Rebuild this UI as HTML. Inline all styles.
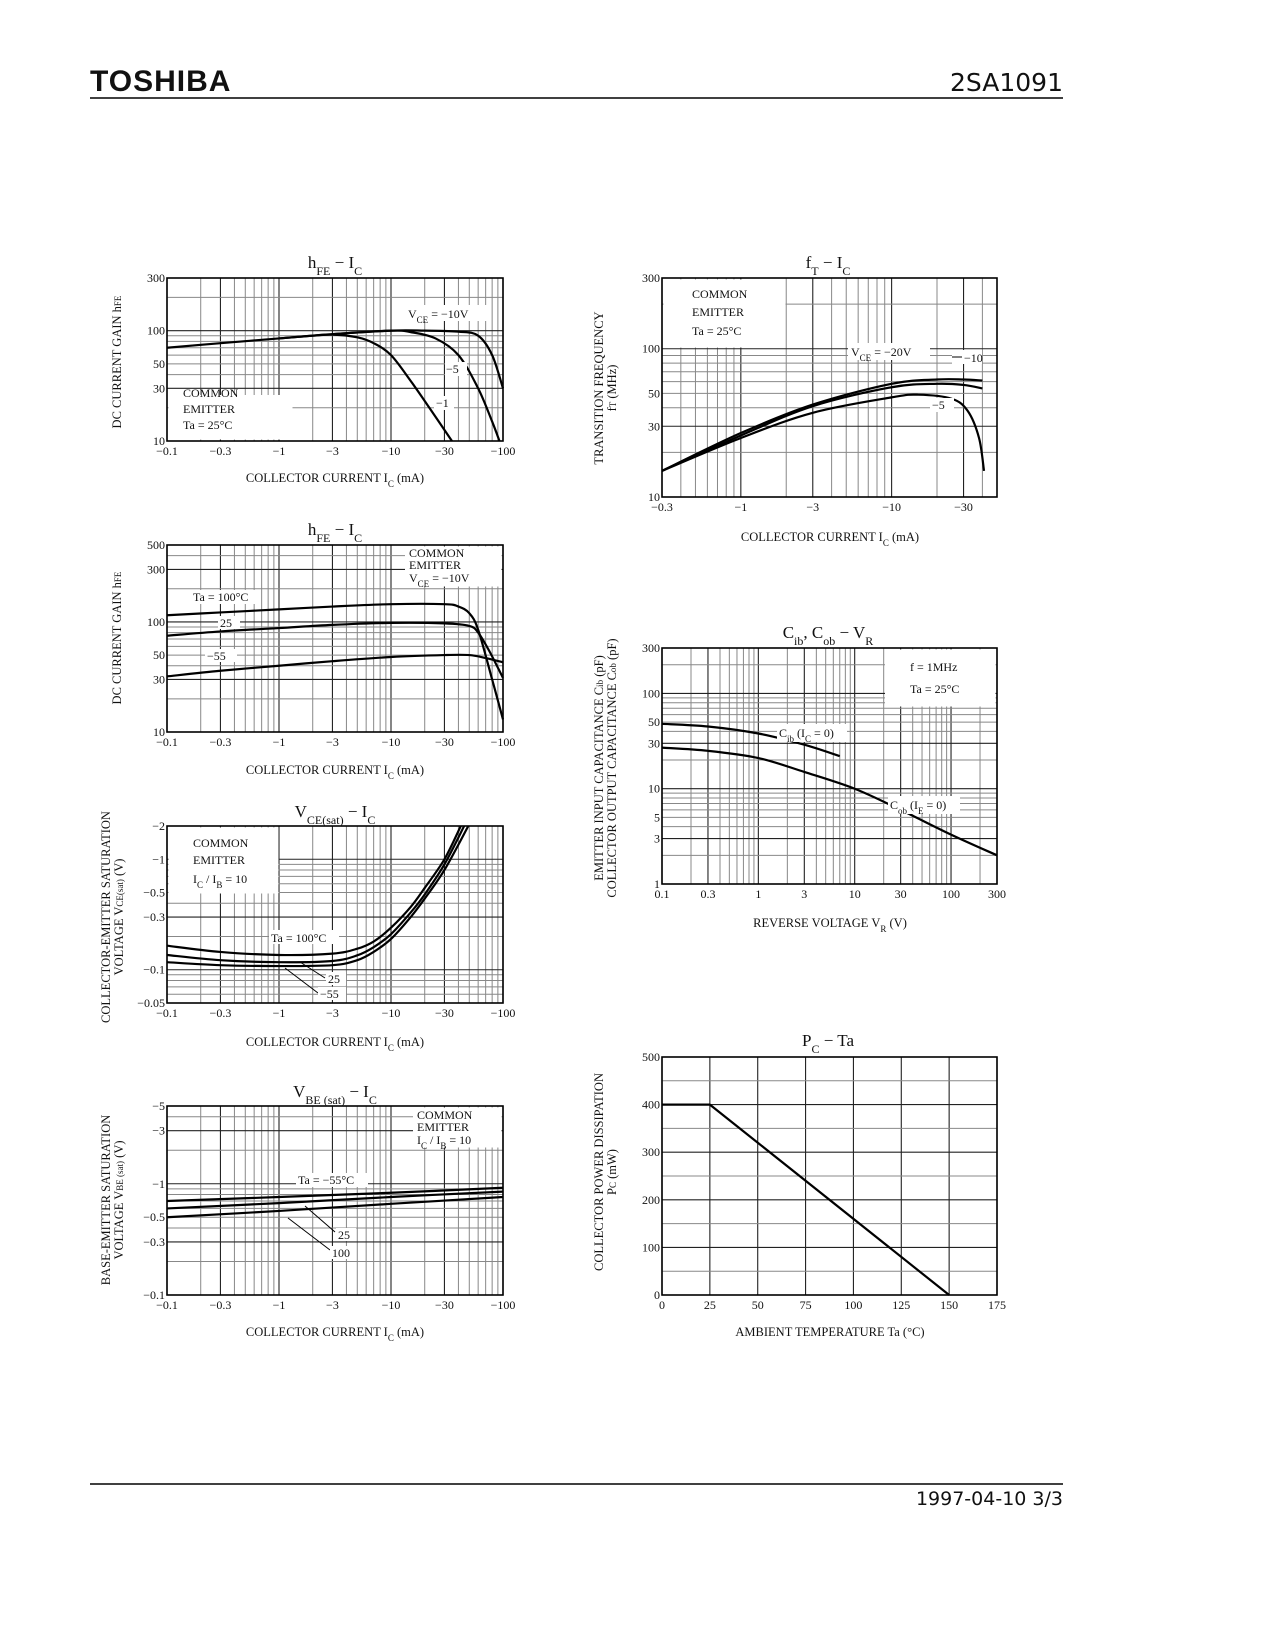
<!DOCTYPE html>
<html><head><meta charset="utf-8"><style>
html,body{margin:0;padding:0;background:#fff}
svg{display:block}
text{font-family:"Liberation Serif",serif;fill:#111}
.t{font-size:12px}
.ti{font-size:17px}
.ax{font-size:12.5px}
.tk{font-size:12px}
</style></head><body>
<svg id="page" width="1275" height="1650" viewBox="0 0 1275 1650" xmlns="http://www.w3.org/2000/svg">
<rect width="1275" height="1650" fill="#fff"/>
<text x="90" y="91" style="font-family:'Liberation Sans',sans-serif;font-weight:bold;font-size:30px;letter-spacing:1px">TOSHIBA</text>
<text x="1063" y="91" text-anchor="end" style="font-family:'DejaVu Sans',sans-serif;font-size:25px">2SA1091</text>
<line x1="90" y1="98" x2="1063" y2="98" stroke="#000" stroke-width="1.5"/>
<line x1="90" y1="1484" x2="1063" y2="1484" stroke="#000" stroke-width="1.5"/>
<text x="1063" y="1505" text-anchor="end" style="font-family:'DejaVu Sans',sans-serif;font-size:19px">1997-04-10   3/3</text>

<g id="layer"></g>

<text class="ti" x="335" y="268" text-anchor="middle">h<tspan font-size="12" baseline-shift="sub">FE</tspan> − I<tspan font-size="12" baseline-shift="sub">C</tspan></text>
<text class="ti" x="335" y="535" text-anchor="middle">h<tspan font-size="12" baseline-shift="sub">FE</tspan> − I<tspan font-size="12" baseline-shift="sub">C</tspan></text>
<text class="ti" x="335" y="817" text-anchor="middle">V<tspan font-size="12" baseline-shift="sub">CE(sat)</tspan> − I<tspan font-size="12" baseline-shift="sub">C</tspan></text>
<text class="ti" x="335" y="1097" text-anchor="middle">V<tspan font-size="12" baseline-shift="sub">BE (sat)</tspan> − I<tspan font-size="12" baseline-shift="sub">C</tspan></text>
<text class="ti" x="828" y="268" text-anchor="middle">f<tspan font-size="12" baseline-shift="sub">T</tspan> − I<tspan font-size="12" baseline-shift="sub">C</tspan></text>
<text class="ti" x="828" y="638" text-anchor="middle">C<tspan font-size="12" baseline-shift="sub">ib</tspan>, C<tspan font-size="12" baseline-shift="sub">ob</tspan> − V<tspan font-size="12" baseline-shift="sub">R</tspan></text>
<text class="ti" x="828" y="1046" text-anchor="middle">P<tspan font-size="12" baseline-shift="sub">C</tspan> − Ta</text>

<text class="ax" x="335" y="482" text-anchor="middle">COLLECTOR CURRENT   I<tspan font-size="9" baseline-shift="sub">C</tspan>   (mA)</text>
<text class="ax" x="335" y="774" text-anchor="middle">COLLECTOR CURRENT   I<tspan font-size="9" baseline-shift="sub">C</tspan>   (mA)</text>
<text class="ax" x="335" y="1046" text-anchor="middle">COLLECTOR CURRENT   I<tspan font-size="9" baseline-shift="sub">C</tspan>   (mA)</text>
<text class="ax" x="335" y="1336" text-anchor="middle">COLLECTOR CURRENT   I<tspan font-size="9" baseline-shift="sub">C</tspan>   (mA)</text>
<text class="ax" x="830" y="541" text-anchor="middle">COLLECTOR CURRENT   I<tspan font-size="9" baseline-shift="sub">C</tspan>   (mA)</text>
<text class="ax" x="830" y="927" text-anchor="middle">REVERSE VOLTAGE   V<tspan font-size="9" baseline-shift="sub">R</tspan>   (V)</text>
<text class="ax" x="830" y="1336" text-anchor="middle">AMBIENT TEMPERATURE   Ta   (°C)</text>

<text class="ax" transform="translate(121,362) rotate(-90)" text-anchor="middle">DC CURRENT GAIN   h<tspan font-size="9">FE</tspan></text>
<text class="ax" transform="translate(121,638) rotate(-90)" text-anchor="middle">DC CURRENT GAIN   h<tspan font-size="9">FE</tspan></text>
<text class="ax" transform="translate(110,917) rotate(-90)" text-anchor="middle">COLLECTOR-EMITTER SATURATION</text>
<text class="ax" transform="translate(123,917) rotate(-90)" text-anchor="middle">VOLTAGE   V<tspan font-size="9">CE(sat)</tspan>   (V)</text>
<text class="ax" transform="translate(110,1200) rotate(-90)" text-anchor="middle">BASE-EMITTER SATURATION</text>
<text class="ax" transform="translate(123,1200) rotate(-90)" text-anchor="middle">VOLTAGE   V<tspan font-size="9">BE (sat)</tspan>   (V)</text>
<text class="ax" transform="translate(603,388) rotate(-90)" text-anchor="middle">TRANSITION FREQUENCY</text>
<text class="ax" transform="translate(616,388) rotate(-90)" text-anchor="middle">f<tspan font-size="9">T</tspan>   (MHz)</text>
<text class="ax" transform="translate(603,768) rotate(-90)" text-anchor="middle">EMITTER INPUT CAPACITANCE   C<tspan font-size="9">ib</tspan>   (pF)</text>
<text class="ax" transform="translate(616,768) rotate(-90)" text-anchor="middle">COLLECTOR OUTPUT CAPACITANCE   C<tspan font-size="9">ob</tspan>   (pF)</text>
<text class="ax" transform="translate(603,1172) rotate(-90)" text-anchor="middle">COLLECTOR POWER DISSIPATION</text>
<text class="ax" transform="translate(616,1172) rotate(-90)" text-anchor="middle">P<tspan font-size="9">C</tspan>   (mW)</text>
</svg>
<script>
// Chart 1: hFE - IC (VCE)
const c1_ticksX=[0.1,0.3,1,3,10,30,100], c1_labX=["−0.1","−0.3","−1","−3","−10","−30","−100"];
const c1_ticksY=[10,30,50,100,300], c1_labY=["10","30","50","100","300"];
const c1_vce10_x=[0.1,0.3,1,3,10,20,40,60,80,100];
const c1_vce10_y=[70,77,85,93,100,100,98,90,60,30];
const c1_vce5_x=[3,10,15,25,40,60,80,93];
const c1_vce5_y=[93,100,97,85,60,30,15,10];
const c1_vce1_x=[1,2,3,5,7,10,15,22,35];
const c1_vce1_y=[85,90,92,87,77,60,35,20,10];
// Chart 2: hFE - IC (Ta)
const c2_ticksX=c1_ticksX, c2_labX=c1_labX;
const c2_ticksY=[10,30,50,100,300,500], c2_labY=["10","30","50","100","300","500"];
const c2_t100_x=[0.1,0.3,1,3,10,30,40,50,60,80,100];
const c2_t100_y=[115,122,130,138,145,145,138,120,85,30,13];
const c2_t25_x=[0.1,0.3,1,3,10,30,50,60,75,100];
const c2_t25_y=[75,82,88,94,98,97,92,80,55,31];
const c2_tm55_x=[0.1,0.3,1,3,10,30,50,70,100];
const c2_tm55_y=[32,36,40,44,48,50,50,47,43];
// Chart 3: VCE(sat) - IC
const c3_ticksX=c1_ticksX, c3_labX=c1_labX;
const c3_ticksY=[0.05,0.1,0.3,0.5,1,2], c3_labY=["−0.05","−0.1","−0.3","−0.5","−1","−2"];
const c3_t100_x=[0.1,0.3,1,3,5,7,10,15,20,30,42];
const c3_t100_y=[0.165,0.145,0.136,0.14,0.155,0.18,0.24,0.37,0.55,1.0,2];
const c3_t25_x=[0.1,0.3,1,3,5,7,10,15,20,30,45];
const c3_t25_y=[0.136,0.122,0.117,0.12,0.135,0.16,0.21,0.33,0.48,0.9,2];
const c3_tm55_x=[0.1,0.3,1,3,5,7,10,15,20,30,49];
const c3_tm55_y=[0.117,0.11,0.108,0.11,0.122,0.145,0.19,0.3,0.44,0.8,2];
// Chart 4: VBE(sat) - IC
const c4_ticksX=c1_ticksX, c4_labX=c1_labX;
const c4_ticksY=[0.1,0.3,0.5,1,3,5], c4_labY=["−0.1","−0.3","−0.5","−1","−3","−5"];
const c4_tm55_x=[0.1,1,10,100], c4_tm55_y=[0.70,0.76,0.83,0.92];
const c4_t25_x=[0.1,1,10,100], c4_t25_y=[0.60,0.67,0.76,0.85];
const c4_t100_x=[0.1,1,10,100], c4_t100_y=[0.50,0.57,0.66,0.76];
// Chart 5: fT - IC
const c5_ticksX=[0.3,1,3,10,30], c5_labX=["−0.3","−1","−3","−10","−30"];
const c5_ticksY=[10,30,50,100,300], c5_labY=["10","30","50","100","300"];
const c5_v20_x=[0.3,1,3,10,20,30,40], c5_v20_y=[15,27,42,58,62,62,61];
const c5_v10_x=[0.3,1,3,10,20,30,40], c5_v10_y=[15,26,41,55,58,57,54];
const c5_v5_x=[0.3,1,3,10,15,25,32,38,41], c5_v5_y=[15,25,37,47,49,46,38,25,15];
// Chart 6: Cib, Cob - VR
const c6_ticksX=[0.1,0.3,1,3,10,30,100,300], c6_labX=["0.1","0.3","1","3","10","30","100","300"];
const c6_ticksY=[1,3,5,10,30,50,100,300], c6_labY=["1","3","5","10","30","50","100","300"];
const c6_cib_x=[0.1,0.3,1,3,7], c6_cib_y=[48,45,38,29,22];
const c6_cob_x=[0.1,0.3,1,3,10,30,100,300], c6_cob_y=[27,25,21,15,10,6,3.3,2];
// Chart 7: PC - Ta
const c7_ticksX=[0,25,50,75,100,125,150,175], c7_labX=["0","25","50","75","100","125","150","175"];
const c7_ticksY=[0,100,200,300,400,500], c7_labY=["0","100","200","300","400","500"];
const c7_x=[0,25,150], c7_y=[400,400,0];

const NS="http://www.w3.org/2000/svg";
const layer=document.getElementById('layer');
function mk(tag,attrs,parent){const e=document.createElementNS(NS,tag);for(const k in attrs)e.setAttribute(k,attrs[k]);(parent||layer).appendChild(e);return e;}
const L=Math.log10;
function logScale(a,b,p0,p1){return v=>p0+(L(v)-L(a))/(L(b)-L(a))*(p1-p0);}
function linScale(a,b,p0,p1){return v=>p0+(v-a)/(b-a)*(p1-p0);}
function logGrid(a,b){const out=[];let d=Math.pow(10,Math.floor(L(a)+1e-9));for(;d<=b*1.0001;d*=10){for(let k=1;k<=9;k++){const v=k*d;if(v>=a*0.9999&&v<=b*1.0001)out.push({v,major:k===1||k===3});}}return out;}

function chart(name,x0,x1,y0,y1,sx,sy,gx,gy,ticksX,labX,ticksY,labY){
  const g=mk('g',{});
  
  
  gx.forEach(o=>{const l=mk('line',{x1:sx(o.v),x2:sx(o.v),y1:y0,y2:y1,stroke:o.major?'#222':'#888','stroke-width':o.major?1.1:1},g);
    
    });
  gy.forEach(o=>{const l=mk('line',{x1:x0,x2:x1,y1:sy(o.v),y2:sy(o.v),stroke:o.major?'#222':'#888','stroke-width':o.major?1.1:1},g);
    
    });
  const r=mk('rect',{x:x0,y:y0,width:x1-x0,height:y1-y0,fill:'none',stroke:'#000','stroke-width':1.6},g);
  
  
  ticksX.forEach((v,i)=>{const t=mk('text',{x:sx(v),y:y1+14,'text-anchor':'middle','class':'tk'},g);t.textContent=labX[i];
    
    });
  ticksY.forEach((v,i)=>{const t=mk('text',{x:x0-2,y:sy(v)+4,'text-anchor':'end','class':'tk'},g);t.textContent=labY[i];
    
    });
  return g;
}
function curve(g,name,xs,ys,sx,sy){
  const pts=xs.map((x,i)=>[sx(x),sy(ys[i])]);
  let d='M'+pts[0][0]+','+pts[0][1];
  for(let i=0;i<pts.length-1;i++){const p0=pts[i-1]||pts[i],p1=pts[i],p2=pts[i+1],p3=pts[i+2]||p2;
    d+=' C'+(p1[0]+(p2[0]-p0[0])/6)+','+(p1[1]+(p2[1]-p0[1])/6)+' '+(p2[0]-(p3[0]-p1[0])/6)+','+(p2[1]-(p3[1]-p1[1])/6)+' '+p2[0]+','+p2[1];}
  const p=mk('path',{d,fill:'none',stroke:'#000','stroke-width':2.2},g);
  
  
}
function wbox(g,x,y,w,h){const r=mk('rect',{x,y,width:w,height:h,fill:'#fff'},g);
  
  }
function txt(g,x,y,s,anchor){const t=mk('text',{x,y,'class':'t','text-anchor':anchor||'start'},g);t.innerHTML=s;
  
  return t;}
function lead(g,x1,y1,x2,y2){const l=mk('line',{x1,y1,x2,y2,stroke:'#000','stroke-width':1},g);
  
  }
const sub=s=>'<tspan font-size="9" baseline-shift="sub">'+s+'</tspan>';

{const sx=logScale(0.1,100,167,503),sy=logScale(10,300,441,278);
 const g=chart('chart-hfe-ic-vce',167,503,278,441,sx,sy,logGrid(0.1,100),logGrid(10,300),c1_ticksX,c1_labX,c1_ticksY,c1_labY);
 wbox(g,168.5,395,124,44.5);
 curve(g,'series-vce-10',c1_vce10_x,c1_vce10_y,sx,sy);
 curve(g,'series-vce-5',c1_vce5_x,c1_vce5_y,sx,sy);
 curve(g,'series-vce-1',c1_vce1_x,c1_vce1_y,sx,sy);
 txt(g,183,397,'COMMON');txt(g,183,413,'EMITTER');txt(g,183,429,'Ta = 25°C');
 wbox(g,405,305,84,16);txt(g,408,318,'V'+sub('CE')+' = −10V');
 wbox(g,445,362,22,14);txt(g,446,373,'−5');
 wbox(g,434,396,20,14);txt(g,436,407,'−1');
}
{const sx=logScale(0.1,100,167,503),sy=logScale(10,500,732,545);
 const g=chart('chart-hfe-ic-ta',167,503,545,732,sx,sy,logGrid(0.1,100),logGrid(10,500),c2_ticksX,c2_labX,c2_ticksY,c2_labY);
 wbox(g,405,546.5,96.5,40);
 txt(g,409,557,'COMMON');txt(g,409,569,'EMITTER');txt(g,409,582,'V'+sub('CE')+' = −10V');
 curve(g,'series-ta-100',c2_t100_x,c2_t100_y,sx,sy);
 curve(g,'series-ta-25',c2_t25_x,c2_t25_y,sx,sy);
 curve(g,'series-ta-minus55',c2_tm55_x,c2_tm55_y,sx,sy);
 wbox(g,190,590,70,14);txt(g,193,601,'Ta = 100°C');
 wbox(g,218,616,22,13);txt(g,220,627,'25');
 wbox(g,205,649,32,13);txt(g,207,660,'−55');
}
{const sx=logScale(0.1,100,167,503),sy=logScale(0.05,2,1003,826);
 const g=chart('chart-vcesat-ic',167,503,826,1003,sx,sy,logGrid(0.1,100),logGrid(0.05,2),c3_ticksX,c3_labX,c3_ticksY,c3_labY);
 wbox(g,168.5,827.5,110,66);
 txt(g,193,847,'COMMON');txt(g,193,864,'EMITTER');txt(g,193,883,'I'+sub('C')+' / I'+sub('B')+' = 10');
 curve(g,'series-ta-100',c3_t100_x,c3_t100_y,sx,sy);
 curve(g,'series-ta-25',c3_t25_x,c3_t25_y,sx,sy);
 curve(g,'series-ta-minus55',c3_tm55_x,c3_tm55_y,sx,sy);
 wbox(g,269,930,70,14);txt(g,271,942,'Ta = 100°C');
 lead(g,300,962,325,978);lead(g,285,968,318,993);
 wbox(g,326,972,20,13);txt(g,328,983,'25');
 wbox(g,318,987,28,13);txt(g,320,998,'−55');
}
{const sx=logScale(0.1,100,167,503),sy=logScale(0.1,5,1295,1106);
 const g=chart('chart-vbesat-ic',167,503,1106,1295,sx,sy,logGrid(0.1,100),logGrid(0.1,5),c4_ticksX,c4_labX,c4_ticksY,c4_labY);
 wbox(g,413,1107.5,88.5,40);
 txt(g,417,1119,'COMMON');txt(g,417,1131,'EMITTER');txt(g,417,1144,'I'+sub('C')+' / I'+sub('B')+' = 10');
 curve(g,'series-ta-minus55',c4_tm55_x,c4_tm55_y,sx,sy);
 curve(g,'series-ta-25',c4_t25_x,c4_t25_y,sx,sy);
 curve(g,'series-ta-100',c4_t100_x,c4_t100_y,sx,sy);
 wbox(g,296,1173,72,14);txt(g,298,1184,'Ta = −55°C');
 lead(g,305,1206,335,1232);lead(g,288,1218,330,1250);
 wbox(g,336,1228,20,13);txt(g,338,1239,'25');
 wbox(g,330,1246,26,13);txt(g,332,1257,'100');
}
{const sx=logScale(0.3,50,662,997),sy=logScale(10,300,497,278);
 const g=chart('chart-ft-ic',662,997,278,497,sx,sy,logGrid(0.3,50),logGrid(10,300),c5_ticksX,c5_labX,c5_ticksY,c5_labY);
 wbox(g,663.5,279.5,122,68);
 txt(g,692,298,'COMMON');txt(g,692,316,'EMITTER');txt(g,692,335,'Ta = 25°C');
 curve(g,'series-vce-20',c5_v20_x,c5_v20_y,sx,sy);
 curve(g,'series-vce-10',c5_v10_x,c5_v10_y,sx,sy);
 curve(g,'series-vce-5',c5_v5_x,c5_v5_y,sx,sy);
 wbox(g,848,343,82,17);txt(g,851,356,'V'+sub('CE')+' = −20V');
 wbox(g,952,350,30,14);txt(g,964,362,'−10');lead(g,952,357,962,357);
 wbox(g,930,398,24,14);txt(g,932,409,'−5');
}
{const sx=logScale(0.1,300,662,997),sy=logScale(1,300,884,648);
 const g=chart('chart-cap-vr',662,997,648,884,sx,sy,logGrid(0.1,300),logGrid(1,300),c6_ticksX,c6_labX,c6_ticksY,c6_labY);
 wbox(g,885,649.5,110.5,57);
 txt(g,910,671,'f = 1MHz');txt(g,910,693,'Ta = 25°C');
 curve(g,'series-cib',c6_cib_x,c6_cib_y,sx,sy);
 curve(g,'series-cob',c6_cob_x,c6_cob_y,sx,sy);
 wbox(g,777,724,70,18);txt(g,779,737,'C'+sub('ib')+' (I'+sub('C')+' = 0)');
 wbox(g,888,796,72,18);txt(g,890,809,'C'+sub('ob')+' (I'+sub('E')+' = 0)');
}
{const sx=linScale(0,175,662,997),sy=linScale(0,500,1295,1057);
 const gx=c7_ticksX.map(v=>({v,major:true})),gy=[];for(let v=0;v<=500;v+=50)gy.push({v,major:v%100===0});
 const g=chart('chart-pc-ta',662,997,1057,1295,sx,sy,gx,gy,c7_ticksX,c7_labX,c7_ticksY,c7_labY);
 const p=mk('polyline',{points:c7_x.map((x,i)=>sx(x)+','+sy(c7_y[i])).join(' '),fill:'none',stroke:'#000','stroke-width':2.2},g);
 
 
}
</script>
</body></html>
